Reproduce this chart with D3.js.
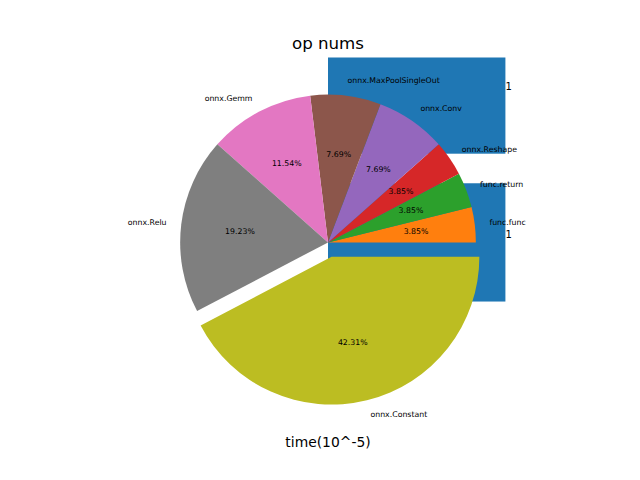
<!DOCTYPE html>
<html lang="en">
<head>
    <meta charset="UTF-8">
    <title>op nums</title>
    <script src="https://d3js.org/d3.v7.min.js"></script>
    <style>
        body { margin: 0; background: #fff; }
        text { font-family: "DejaVu Sans", sans-serif; fill: #000; }
        .title { font-size: 16.67px; text-anchor: middle; }
        .axis-label { font-size: 13.89px; text-anchor: middle; }
        .slice-label, .pct-label { font-size: 7.8px; }
        .bar-label { font-size: 10px; }
    </style>
</head>
<body>
    <div id="chart"></div>
    <script>
        // pie data
        const opLabels = ["func.func", "func.return", "onnx.Reshape", "onnx.Conv",
                          "onnx.MaxPoolSingleOut", "onnx.Gemm", "onnx.Relu", "onnx.Constant"];
        const opCounts = [1, 1, 1, 2, 2, 3, 5, 11];
        const opExplode = [0, 0, 0, 0, 0, 0, 0, 0.1];

        // bar data (drawn underneath the pie)
        const barPos = [0, 1];
        const barValues = [1.2, 1.2];
        const barText = ["1", "1"];

        const barColor = "#1f77b4";
        const pieColors = ["#ff7f0e", "#2ca02c", "#d62728", "#9467bd",
                           "#8c564b", "#e377c2", "#7f7f7f", "#bcbd22"];

        const W = 640, H = 480;
        const ax = { left: 80, right: 576, top: 57.6, bottom: 427.2 };

        const yScale = d3.scaleLinear().domain([-1.25, 1.25]).range([ax.bottom, ax.top]);
        const unit = (ax.bottom - ax.top) / 2.5;            // equal aspect
        const xHalf = (ax.right - ax.left) / 2 / unit;
        const xScale = d3.scaleLinear().domain([-xHalf, xHalf]).range([ax.left, ax.right]);

        const svg = d3.select("#chart").append("svg")
            .attr("width", W).attr("height", H);

        svg.append("defs").append("clipPath").attr("id", "axclip")
            .append("rect")
            .attr("x", ax.left).attr("y", ax.top)
            .attr("width", ax.right - ax.left).attr("height", ax.bottom - ax.top);

        const plot = svg.append("g").attr("clip-path", "url(#axclip)");

        // horizontal bars
        plot.selectAll("rect.bar")
            .data(barPos)
            .enter().append("rect")
            .attr("class", "bar")
            .attr("x", xScale(0))
            .attr("y", d => yScale(d + 0.4))
            .attr("width", (d, i) => xScale(barValues[i]) - xScale(0))
            .attr("height", d => yScale(d - 0.4) - yScale(d + 0.4))
            .attr("fill", barColor);

        svg.selectAll("text.bar-label")
            .data(barPos)
            .enter().append("text")
            .attr("class", "bar-label")
            .attr("x", (d, i) => xScale(barValues[i]))
            .attr("y", d => yScale(d + 0.055))
            .attr("dy", "0.36em")
            .text((d, i) => barText[i]);

        // pie, counter-clockwise from 3 o'clock like matplotlib
        const total = d3.sum(opCounts);
        const r = xScale(1) - xScale(0);
        const pie = d3.pie().sort(null)
            .startAngle(Math.PI / 2)
            .endAngle(Math.PI / 2 - 2 * Math.PI);
        const arcs = pie(opCounts);
        const arc = d3.arc().innerRadius(0).outerRadius(r);

        // position along the mid angle of a slice, in data units
        function along(d, dist) {
            const a = (d.startAngle + d.endAngle) / 2;
            return [Math.sin(a) * dist, Math.cos(a) * dist];
        }

        const slices = svg.append("g");
        arcs.forEach((d, i) => {
            const off = along(d, opExplode[i]);
            const cx = xScale(off[0]), cy = yScale(off[1]);
            slices.append("path")
                .attr("transform", `translate(${cx},${cy})`)
                .attr("d", arc(d))
                .attr("fill", pieColors[i]);

            const lp = along(d, 1.1);
            svg.append("text")
                .attr("class", "slice-label")
                .attr("x", xScale(off[0] + lp[0]))
                .attr("y", yScale(off[1] + lp[1]))
                .attr("dy", "0.3em")
                .attr("text-anchor", lp[0] > 0 ? "start" : "end")
                .text(opLabels[i]);

            const pp = along(d, 0.6);
            svg.append("text")
                .attr("class", "pct-label")
                .attr("x", xScale(off[0] + pp[0]))
                .attr("y", yScale(off[1] + pp[1]))
                .attr("dy", "0.3em")
                .attr("text-anchor", "middle")
                .text((opCounts[i] / total * 100).toFixed(2) + "%");
        });

        svg.append("text")
            .attr("class", "title")
            .attr("x", (ax.left + ax.right) / 2)
            .attr("y", 49)
            .text("op nums");

        svg.append("text")
            .attr("class", "axis-label")
            .attr("x", (ax.left + ax.right) / 2)
            .attr("y", 447)
            .text("time(10^-5)");
    </script>
</body>
</html>
